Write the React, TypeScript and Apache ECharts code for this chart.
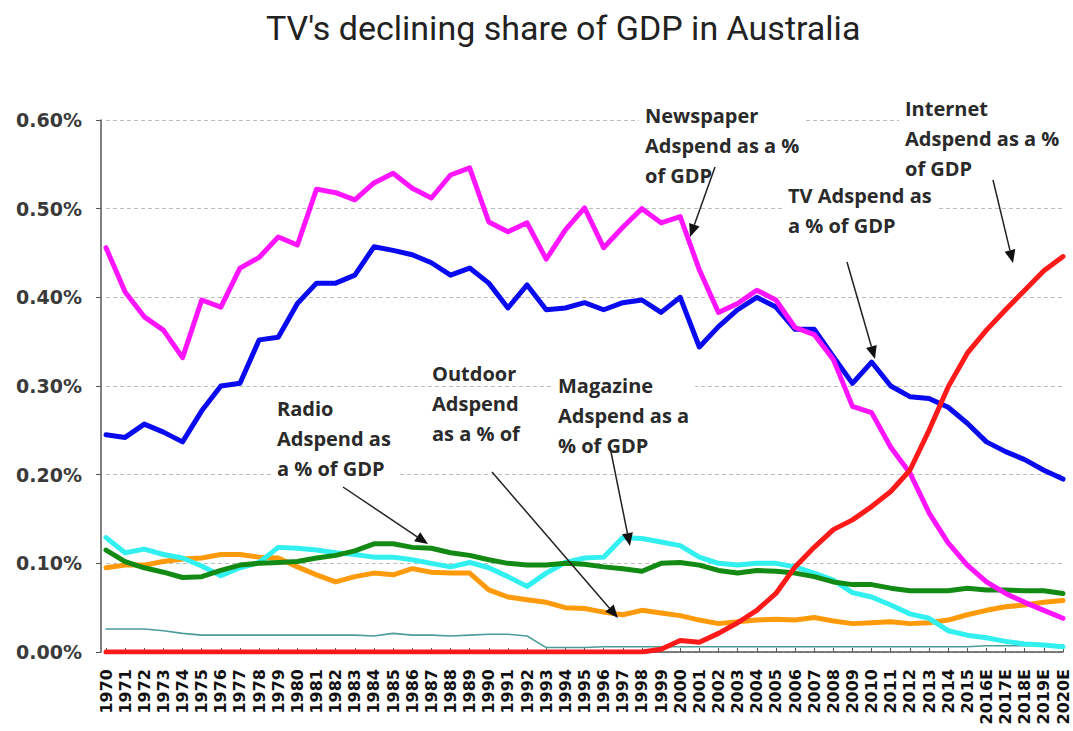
import React, { useEffect, useRef } from "react";
import * as echarts from "echarts";

const categories = [
  "1970", "1971", "1972", "1973", "1974", "1975", "1976", "1977", "1978", "1979",
  "1980", "1981", "1982", "1983", "1984", "1985", "1986", "1987", "1988", "1989",
  "1990", "1991", "1992", "1993", "1994", "1995", "1996", "1997", "1998", "1999",
  "2000", "2001", "2002", "2003", "2004", "2005", "2006", "2007", "2008", "2009",
  "2010", "2011", "2012", "2013", "2014", "2015", "2016E", "2017E", "2018E", "2019E", "2020E",
];

const newspaper = [
  0.456, 0.406, 0.378, 0.363, 0.332, 0.397, 0.389, 0.433, 0.445, 0.468,
  0.459, 0.522, 0.518, 0.510, 0.529, 0.540, 0.523, 0.512, 0.538, 0.546,
  0.485, 0.474, 0.484, 0.443, 0.476, 0.501, 0.456, 0.479, 0.500, 0.484,
  0.491, 0.431, 0.383, 0.393, 0.408, 0.397, 0.366, 0.358, 0.330, 0.277,
  0.270, 0.231, 0.202, 0.157, 0.123, 0.098, 0.079, 0.066, 0.056, 0.047, 0.038,
];

const tv = [
  0.245, 0.242, 0.257, 0.248, 0.237, 0.272, 0.300, 0.303, 0.352, 0.355,
  0.393, 0.416, 0.416, 0.425, 0.457, 0.453, 0.448, 0.439, 0.425, 0.433,
  0.416, 0.388, 0.414, 0.386, 0.388, 0.394, 0.386, 0.394, 0.397, 0.383,
  0.400, 0.344, 0.367, 0.386, 0.400, 0.389, 0.364, 0.364, 0.333, 0.303,
  0.327, 0.300, 0.288, 0.286, 0.276, 0.258, 0.237, 0.226, 0.217, 0.205, 0.195,
];

const internet = [
  0, 0, 0, 0, 0, 0, 0, 0, 0, 0,
  0, 0, 0, 0, 0, 0, 0, 0, 0, 0,
  0, 0, 0, 0, 0, 0, 0, 0, 0, 0.003,
  0.013, 0.011, 0.021, 0.033, 0.047, 0.066, 0.096, 0.118, 0.138, 0.149,
  0.164, 0.181, 0.205, 0.250, 0.299, 0.337, 0.363, 0.386, 0.408, 0.430, 0.446,
];

const radio = [
  0.115, 0.102, 0.095, 0.090, 0.084, 0.085, 0.092, 0.098, 0.100, 0.101,
  0.102, 0.106, 0.109, 0.114, 0.122, 0.122, 0.118, 0.117, 0.112, 0.109,
  0.104, 0.100, 0.098, 0.098, 0.100, 0.099, 0.096, 0.094, 0.091, 0.100,
  0.101, 0.098, 0.092, 0.089, 0.092, 0.091, 0.089, 0.085, 0.079, 0.076,
  0.076, 0.072, 0.069, 0.069, 0.069, 0.072, 0.070, 0.070, 0.069, 0.069, 0.066,
];

const magazine = [
  0.129, 0.112, 0.116, 0.110, 0.106, 0.097, 0.086, 0.095, 0.101, 0.118,
  0.117, 0.115, 0.112, 0.110, 0.107, 0.107, 0.104, 0.100, 0.096, 0.101,
  0.095, 0.085, 0.074, 0.089, 0.101, 0.106, 0.107, 0.129, 0.128, 0.124,
  0.120, 0.107, 0.100, 0.098, 0.100, 0.100, 0.096, 0.089, 0.081, 0.067,
  0.062, 0.053, 0.043, 0.038, 0.024, 0.019, 0.016, 0.012, 0.009, 0.008, 0.006,
];

const outdoor = [
  0.095, 0.098, 0.098, 0.102, 0.105, 0.106, 0.110, 0.110, 0.107, 0.106,
  0.096, 0.087, 0.079, 0.085, 0.089, 0.087, 0.094, 0.090, 0.089, 0.089,
  0.070, 0.062, 0.059, 0.056, 0.050, 0.049, 0.045, 0.042, 0.047, 0.044,
  0.041, 0.036, 0.032, 0.034, 0.036, 0.037, 0.036, 0.039, 0.035, 0.032,
  0.033, 0.034, 0.032, 0.033, 0.036, 0.042, 0.047, 0.051, 0.053, 0.056, 0.058,
];

const other = [
  0.026, 0.026, 0.026, 0.024, 0.021, 0.019, 0.019, 0.019, 0.019, 0.019,
  0.019, 0.019, 0.019, 0.019, 0.018, 0.021, 0.019, 0.019, 0.018, 0.019,
  0.020, 0.020, 0.018, 0.005, 0.005, 0.005, 0.006, 0.006, 0.006, 0.006,
  0.006, 0.006, 0.006, 0.006, 0.006, 0.006, 0.006, 0.006, 0.006, 0.006,
  0.006, 0.006, 0.006, 0.006, 0.006, 0.006, 0.007, 0.007, 0.007, 0.008, 0.008,
];

const yTicks = [0, 0.1, 0.2, 0.3, 0.4, 0.5, 0.6];

const ANN_FONT = 'bold 20px "Open Sans"';

function arrow(x1: number, y1: number, x2: number, y2: number) {
  const dx = x2 - x1;
  const dy = y2 - y1;
  const len = Math.sqrt(dx * dx + dy * dy);
  const ux = dx / len;
  const uy = dy / len;
  const hl = 13;
  const hw = 5.5;
  const bx = x2 - ux * hl;
  const by = y2 - uy * hl;
  return [
    {
      type: "line",
      z: 100,
      shape: { x1, y1, x2: bx, y2: by },
      style: { stroke: "#222", lineWidth: 1.5 },
    },
    {
      type: "polygon",
      z: 100,
      shape: {
        points: [
          [x2, y2],
          [bx - uy * hw, by + ux * hw],
          [bx + uy * hw, by - ux * hw],
        ],
      },
      style: { fill: "#111" },
    },
  ];
}

function label(text: string, x: number, y: number, bg: boolean) {
  return {
    type: "text",
    z: 90,
    x,
    y,
    style: {
      text,
      font: ANN_FONT,
      fill: "#2a2a2a",
      lineHeight: 30,
      backgroundColor: bg ? "#ffffff" : "transparent",
      padding: bg ? [0, 6, 0, 6] : 0,
    },
  };
}

export default function App() {
  const ref = useRef<HTMLDivElement>(null);

  useEffect(() => {
    if (!ref.current) return;
    const chart = echarts.init(ref.current, undefined, { renderer: "svg" });

    const lineSeries = (name: string, data: number[], color: string, width: number, z: number) => ({
      name,
      type: "line",
      data,
      symbol: "none",
      z,
      lineStyle: { color, width, join: "round", cap: "round" },
      itemStyle: { color },
    });

    const option: any = {
      animation: false,
      backgroundColor: "#ffffff",
      title: {
        text: "TV's declining share of GDP in Australia",
        left: 261,
        top: 6,
        textStyle: {
          fontFamily: "Roboto",
          fontSize: 34,
          fontWeight: "normal",
          color: "#222",
        },
      },
      grid: { left: 106, right: 10, top: 120, bottom: 79 },
      xAxis: {
        type: "category",
        data: categories,
        boundaryGap: false,
        axisLine: { lineStyle: { color: "#555", width: 1.5 } },
        axisTick: { show: true, inside: true, length: 4, interval: 0, lineStyle: { color: "#555" } },
        axisLabel: {
          rotate: 90,
          interval: 0,
          margin: 17,
          fontFamily: "DejaVu Sans",
          fontWeight: "bold",
          fontSize: 16,
          color: "#111",
        },
      },
      yAxis: {
        type: "value",
        min: yTicks[0],
        max: yTicks[yTicks.length - 1],
        interval: 0.1,
        offset: 5,
        axisLine: { show: true, lineStyle: { color: "#555", width: 1.5 } },
        axisTick: { show: true, length: 5, lineStyle: { color: "#555" } },
        axisLabel: {
          margin: 19,
          fontFamily: "DejaVu Sans",
          fontWeight: "bold",
          fontSize: 19,
          color: "#3a3a3a",
          formatter: (v: number) => `${v.toFixed(2)}%`,
        },
        splitLine: { show: true, lineStyle: { color: "#bdbdbd", type: [4, 3], width: 1 } },
      },
      series: [
        lineSeries("Other Adspend as a % of GDP", other, "#4d9c9c", 1.6, 2),
        lineSeries("Outdoor Adspend as a % of GDP", outdoor, "#ff9a0a", 5, 3),
        lineSeries("Magazine Adspend as a % of GDP", magazine, "#33f0f0", 5, 4),
        lineSeries("Radio Adspend as a % of GDP", radio, "#138a13", 5, 5),
        lineSeries("TV Adspend as a % of GDP", tv, "#0a0af0", 5, 6),
        lineSeries("Newspaper Adspend as a % of GDP", newspaper, "#ff14ff", 5, 7),
        lineSeries("Internet Adspend as a % of GDP", internet, "#ff1a1a", 5, 8),
      ],
      graphic: [
        label("Newspaper\nAdspend as a %\nof GDP", 639, 100, true),
        label("Internet\nAdspend as a %\nof GDP", 899, 93, true),
        label("TV Adspend as\na % of GDP", 782, 180, true),
        label("Radio\nAdspend as\na % of GDP", 271, 393, true),
        label("Outdoor\nAdspend\nas a % of", 432, 358, false),
        label("Magazine\nAdspend as a\n% of GDP", 552, 370, true),
        ...arrow(715, 167, 690, 237),
        ...arrow(993, 180, 1013, 263),
        ...arrow(847, 262, 875, 359),
        ...arrow(343, 487, 428, 544),
        ...arrow(492, 472, 618, 618),
        ...arrow(610, 447, 630, 546),
      ],
    };

    chart.setOption(option);
    return () => chart.dispose();
  }, []);

  return (
    <div
      ref={ref}
      style={{ position: "absolute", left: 0, top: 0, width: 1073, height: 731, background: "#fff" }}
    />
  );
}
